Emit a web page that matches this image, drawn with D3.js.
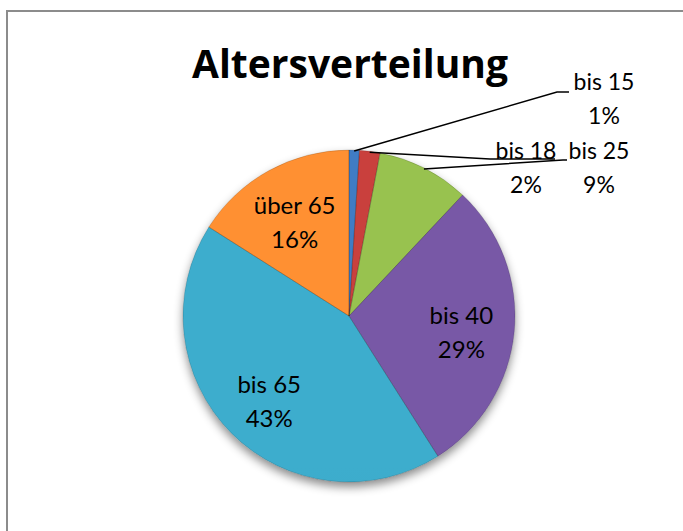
<!DOCTYPE html>
<html>
<head>
<meta charset="utf-8">
<script src="https://cdn.jsdelivr.net/npm/d3@7"></script>
<style>
  body { margin: 0; background: #fff; }
  text { font-family: Lato, "Noto Sans", sans-serif; fill: #000; }
</style>
</head>
<body>
<div id="chart"></div>
<script>
const categories = ["bis 15", "bis 18", "bis 25", "bis 40", "bis 65", "über 65"];
const shares = [1, 2, 9, 29, 43, 16];
const colors = ["#3f78bd", "#c23f3c", "#93bb4c", "#7456a0", "#3ba7c6", "#f68b2e"];
const outsideLabels = ["bis 15", "bis 18", "bis 25"];

const width = 683, height = 531;
const cx = 349, cy = 316, radius = 166;

const data = categories.map((c, i) => ({name: c, value: shares[i], color: colors[i]}));

const svg = d3.select("#chart")
  .append("svg")
  .attr("width", width)
  .attr("height", height);

const defs = svg.append("defs");

// drop shadow under the pie
const shadow = defs.append("filter")
  .attr("id", "shadow")
  .attr("x", "-20%").attr("y", "-20%")
  .attr("width", "140%").attr("height", "140%");
shadow.append("feDropShadow")
  .attr("dx", 0).attr("dy", 5)
  .attr("stdDeviation", 5)
  .attr("flood-color", "#000")
  .attr("flood-opacity", 0.45);

// vertical shading per colour
data.forEach((d, i) => {
  const g = defs.append("linearGradient")
    .attr("id", "grad" + i)
    .attr("gradientUnits", "userSpaceOnUse")
    .attr("x1", 0).attr("y1", cy - radius)
    .attr("x2", 0).attr("y2", cy + radius);
  const base = d3.color(d.color);
  g.append("stop").attr("offset", "0%").attr("stop-color", base.brighter(0.1));
  g.append("stop").attr("offset", "40%").attr("stop-color", base);
  g.append("stop").attr("offset", "100%").attr("stop-color", base.darker(0.8));
});

// chart border
svg.append("rect")
  .attr("x", 7).attr("y", 11)
  .attr("width", 800).attr("height", 800)
  .attr("fill", "none")
  .attr("stroke", "#8c8c8c")
  .attr("stroke-width", 2);

svg.append("text")
  .attr("x", cx + 1).attr("y", 78)
  .attr("text-anchor", "middle")
  .style("font-family", "'Open Sans', Lato, sans-serif")
  .style("font-size", "39px")
  .style("font-weight", "bold")
  .text("Altersverteilung");

const pie = d3.pie().sort(null).value(d => d.value);
const arcs = pie(data);
const arc = d3.arc().innerRadius(0).outerRadius(radius);

const g = svg.append("g")
  .attr("transform", `translate(${cx}, ${cy})`);

const slices = g.append("g").attr("filter", "url(#shadow)");

slices.selectAll("path.slice")
  .data(arcs)
  .join("path")
  .attr("class", "slice")
  .attr("d", arc)
  .attr("fill", (d, i) => `url(#grad${i})`);

// soft bevel: light inner rim clipped to each slice
arcs.forEach((d, i) => {
  defs.append("clipPath")
    .attr("id", "clip" + i)
    .append("path")
    .attr("transform", `translate(${cx}, ${cy})`)
    .attr("d", arc(d));
});
svg.append("g").selectAll("path.bevel")
  .data(arcs)
  .join("path")
  .attr("class", "bevel")
  .attr("clip-path", (d, i) => `url(#clip${i})`)
  .attr("transform", `translate(${cx}, ${cy})`)
  .attr("d", arc)
  .attr("fill", "none")
  .attr("stroke", "#fff")
  .attr("stroke-opacity", 0.2)
  .attr("stroke-width", 8);
svg.append("g").selectAll("path.edge")
  .data(arcs)
  .join("path")
  .attr("class", "edge")
  .attr("transform", `translate(${cx}, ${cy})`)
  .attr("d", arc)
  .attr("fill", "none")
  .attr("stroke", "#000")
  .attr("stroke-opacity", 0.15)
  .attr("stroke-width", 1);

// labels inside the slices
const labelArc = d3.arc().innerRadius(radius * 0.68).outerRadius(radius * 0.68);
const inside = arcs.filter(d => !outsideLabels.includes(d.data.name));
const inLabels = g.selectAll("text.inside")
  .data(inside)
  .join("text")
  .attr("class", "inside")
  .attr("text-anchor", "middle")
  .attr("transform", d => {
    const [x, y] = labelArc.centroid(d);
    return `translate(${x}, ${y - 3})`;
  })
  .style("font-size", "24px");
inLabels.append("tspan").attr("x", 0).attr("dy", 0).text(d => d.data.name);
inLabels.append("tspan").attr("x", 0).attr("dy", 34).text(d => d.data.value + "%");

// outside labels with leader lines
const outside = {
  "bis 15": {tx: 604, ty: 90, path: [[557, 92], [569, 92]]},
  "bis 18": {tx: 526, ty: 159, path: [[490, 159], [555, 159]]},
  "bis 25": {tx: 599, ty: 159, path: [[563, 160], [567, 160]]}
};

arcs.filter(d => outsideLabels.includes(d.data.name)).forEach(d => {
  const o = outside[d.data.name];
  const m = (d.startAngle + d.endAngle) / 2;
  const start = [cx + Math.sin(m) * (radius - 1), cy - Math.cos(m) * (radius - 1)];
  svg.append("path")
    .attr("d", d3.line()([start, ...o.path]))
    .attr("fill", "none")
    .attr("stroke", "#000")
    .attr("stroke-width", 1.5);
  const t = svg.append("text")
    .attr("text-anchor", "middle")
    .attr("transform", `translate(${o.tx}, ${o.ty})`)
    .style("font-size", "23px");
  t.append("tspan").attr("x", 0).attr("dy", 0).text(d.data.name);
  t.append("tspan").attr("x", 0).attr("dy", 34).text(d.data.value + "%");
});
</script>
</body>
</html>
